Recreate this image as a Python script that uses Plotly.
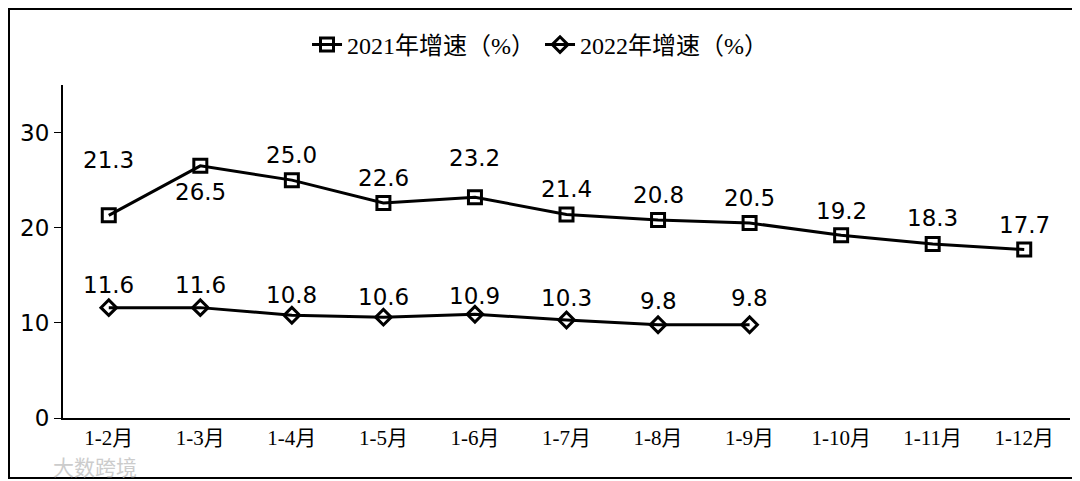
import plotly.graph_objects as go

categories = ["1-2月", "1-3月", "1-4月", "1-5月", "1-6月", "1-7月", "1-8月", "1-9月", "1-10月", "1-11月", "1-12月"]
growth_2021 = [21.3, 26.5, 25.0, 22.6, 23.2, 21.4, 20.8, 20.5, 19.2, 18.3, 17.7]
growth_2022 = [11.6, 11.6, 10.8, 10.6, 10.9, 10.3, 9.8, 9.8]
name_2021 = "2021年增速（%）"
name_2022 = "2022年增速（%）"

# label vertical offsets (px), style only
shift_2021 = [55, -26, 25, 25, 39, 25, 25, 25, 24, 26, 25]
shift_2022 = [23, 23, 20, 20, 18, 22, 24, 27]

fig = go.Figure()
fig.add_trace(go.Scatter(
    x=categories, y=growth_2021, name=name_2021, mode="lines+markers",
    line=dict(color="black", width=3),
    marker=dict(symbol="square-open", size=13, color="black", line=dict(width=3)),
))
fig.add_trace(go.Scatter(
    x=categories[:len(growth_2022)], y=growth_2022, name=name_2022, mode="lines+markers",
    line=dict(color="black", width=3),
    marker=dict(symbol="diamond-open", size=12, color="black", line=dict(width=3)),
))

lab_font = dict(family="DejaVu Sans", size=23, color="black")
for c, v, s in zip(categories, growth_2021, shift_2021):
    fig.add_annotation(x=c, y=v, text=f"{v:.1f}", showarrow=False, yshift=s, font=lab_font)
for c, v, s in zip(categories, growth_2022, shift_2022):
    fig.add_annotation(x=c, y=v, text=f"{v:.1f}", showarrow=False, yshift=s, font=lab_font)

# watermark
fig.add_annotation(xref="paper", yref="paper", x=-0.012, y=-0.143, xanchor="left", yanchor="middle",
                   text="大数跨境", showarrow=False,
                   font=dict(family="Noto Sans CJK SC", size=21, color="#cccccc"))

# outer frame
fig.add_shape(type="rect", xref="paper", yref="paper",
              x0=(1 - 55) / 1007, x1=(1071 - 55) / 1007,
              y0=(410 - 470) / 333, y1=(410 - 1) / 333,
              line=dict(color="black", width=2), fillcolor="rgba(0,0,0,0)")

fig.update_layout(
    width=1072, height=473,
    margin=dict(l=55, r=10, t=77, b=63),
    paper_bgcolor="white", plot_bgcolor="white",
    showlegend=True,
    legend=dict(orientation="h", x=0.4737, xanchor="center", y=1 - 37 / 473, yref="container", yanchor="middle",
                font=dict(family="Liberation Serif, Noto Sans CJK SC", size=24, color="black"),
                itemwidth=30, traceorder="normal", bgcolor="rgba(0,0,0,0)"),
    xaxis=dict(type="category", range=[-0.5, 10.5], showline=True, linecolor="black", linewidth=2,
               ticks="", showgrid=False, zeroline=False,
               tickfont=dict(family="Liberation Serif, Noto Sans CJK SC", size=21, color="black")),
    yaxis=dict(range=[0, 35], tickvals=[0, 10, 20, 30], showline=True, linecolor="black", linewidth=2,
               ticks="outside", ticklen=7, tickcolor="black", showgrid=False, zeroline=False,
               tickfont=dict(family="DejaVu Sans", size=23, color="black")),
)

fig.write_html("out.html")
